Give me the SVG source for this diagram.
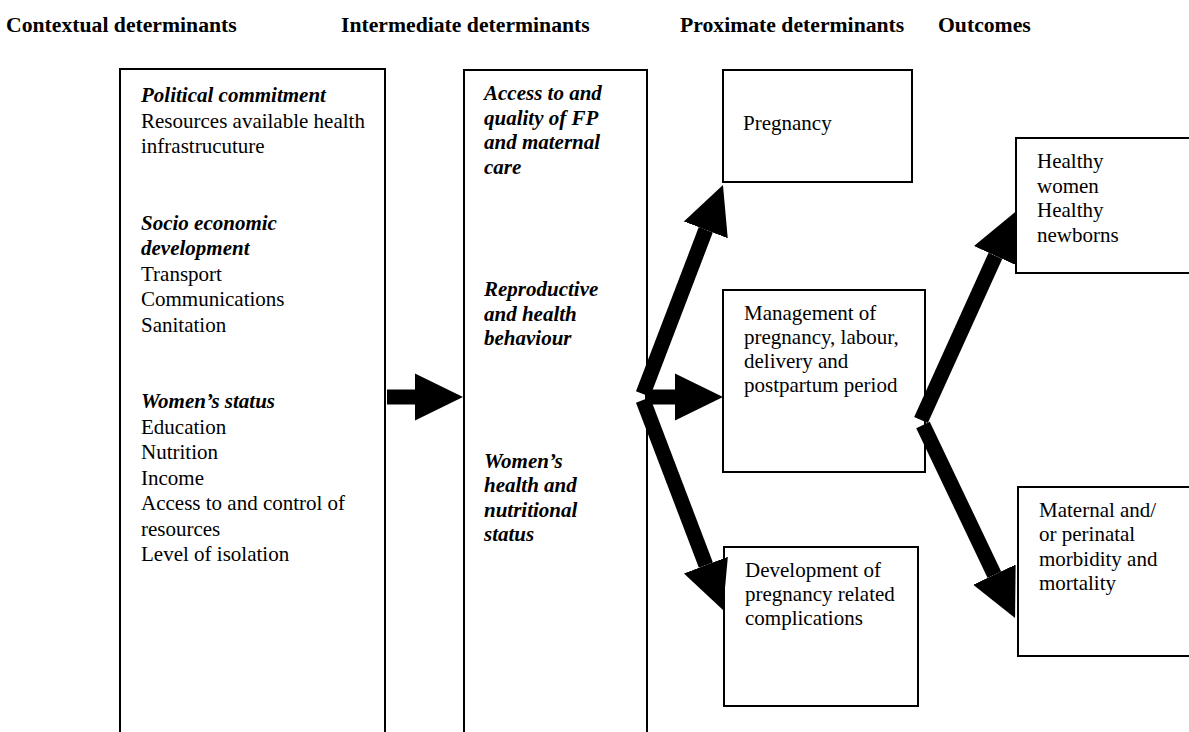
<svg xmlns="http://www.w3.org/2000/svg" width="1189" height="732" viewBox="0 0 1189 732">
  <style>
    .box { fill: #fff; stroke: #000; stroke-width: 2; }
    .hdr { font-family: "Liberation Serif", serif; font-size: 21.7px; font-weight: bold; fill: #000; }
    .t { font-family: "Liberation Serif", serif; font-size: 21px; fill: #000; }
    .bi { font-weight: bold; font-style: italic; }
    .arr { stroke: #000; stroke-width: 15; fill: none; marker-end: url(#ah); }
  </style>
  <defs>
    <marker id="ah" markerUnits="userSpaceOnUse" markerWidth="60" markerHeight="60" viewBox="0 -30 60 60" refX="0" refY="0" orient="auto">
      <path d="M0,-23.5 L48,0 L0,23.5 Z" fill="#000"/>
    </marker>
  </defs>
  <rect width="1189" height="732" fill="#fff"/>

  <g id="headers">
    <text class="hdr" x="6" y="32">Contextual determinants</text>
    <text class="hdr" x="341" y="32">Intermediate determinants</text>
    <text class="hdr" x="680" y="32">Proximate determinants</text>
    <text class="hdr" x="938" y="32">Outcomes</text>
  </g>

  <g id="contextual">
    <rect class="box" x="120" y="69" width="265" height="680"/>
    <text class="t" x="141">
      <tspan class="bi" x="141" y="102">Political commitment</tspan>
      <tspan x="141" y="127.5">Resources available health</tspan>
      <tspan x="141" y="153">infrastrucuture</tspan>
      <tspan class="bi" x="141" y="229.5">Socio economic</tspan>
      <tspan class="bi" x="141" y="255">development</tspan>
      <tspan x="141" y="280.5">Transport</tspan>
      <tspan x="141" y="306">Communications</tspan>
      <tspan x="141" y="331.5">Sanitation</tspan>
      <tspan class="bi" x="141" y="408">Women’s status</tspan>
      <tspan x="141" y="433.5">Education</tspan>
      <tspan x="141" y="459">Nutrition</tspan>
      <tspan x="141" y="484.5">Income</tspan>
      <tspan x="141" y="510">Access to and control of</tspan>
      <tspan x="141" y="535.5">resources</tspan>
      <tspan x="141" y="561">Level of isolation</tspan>
    </text>
  </g>

  <g id="intermediate">
    <rect class="box" x="464" y="70" width="183" height="680"/>
    <text class="t bi">
      <tspan x="484" y="100">Access to and</tspan>
      <tspan x="484" y="124.5">quality of FP</tspan>
      <tspan x="484" y="149">and maternal</tspan>
      <tspan x="484" y="173.5">care</tspan>
      <tspan x="484" y="296">Reproductive</tspan>
      <tspan x="484" y="320.5">and health</tspan>
      <tspan x="484" y="345">behaviour</tspan>
      <tspan x="484" y="467.5">Women’s</tspan>
      <tspan x="484" y="492">health and</tspan>
      <tspan x="484" y="516.5">nutritional</tspan>
      <tspan x="484" y="541">status</tspan>
    </text>
  </g>

  <g id="pregnancy">
    <rect class="box" x="723" y="70" width="189" height="112"/>
    <text class="t" x="743" y="130">Pregnancy</text>
  </g>

  <g id="management">
    <rect class="box" x="723" y="290" width="202" height="182"/>
    <text class="t">
      <tspan x="744" y="320">Management of</tspan>
      <tspan x="744" y="344">pregnancy, labour,</tspan>
      <tspan x="744" y="368">delivery and</tspan>
      <tspan x="744" y="392">postpartum period</tspan>
    </text>
  </g>

  <g id="complications">
    <rect class="box" x="724" y="547" width="194" height="159"/>
    <text class="t">
      <tspan x="745" y="577">Development of</tspan>
      <tspan x="745" y="601">pregnancy related</tspan>
      <tspan x="745" y="625">complications</tspan>
    </text>
  </g>

  <g id="healthy">
    <rect class="box" x="1016" y="138" width="190" height="135"/>
    <text class="t">
      <tspan x="1037" y="168">Healthy</tspan>
      <tspan x="1037" y="192.5">women</tspan>
      <tspan x="1037" y="217">Healthy</tspan>
      <tspan x="1037" y="241.5">newborns</tspan>
    </text>
  </g>

  <g id="morbidity">
    <rect class="box" x="1018" y="487" width="190" height="169"/>
    <text class="t">
      <tspan x="1039" y="517">Maternal and/</tspan>
      <tspan x="1039" y="541">or perinatal</tspan>
      <tspan x="1039" y="565.5">morbidity and</tspan>
      <tspan x="1039" y="590">mortality</tspan>
    </text>
  </g>

  <g id="connectors">
    <line class="arr" x1="387" y1="397" x2="415" y2="397"/>
    <line class="arr" x1="643" y1="394" x2="705.8" y2="229.8"/>
    <line class="arr" x1="645" y1="397" x2="675" y2="397"/>
    <line class="arr" x1="643" y1="400" x2="705.9" y2="565.1"/>
    <line class="arr" x1="921" y1="420" x2="995.4" y2="255.8"/>
    <line class="arr" x1="923" y1="425" x2="994.4" y2="574.7"/>
  </g>
</svg>
